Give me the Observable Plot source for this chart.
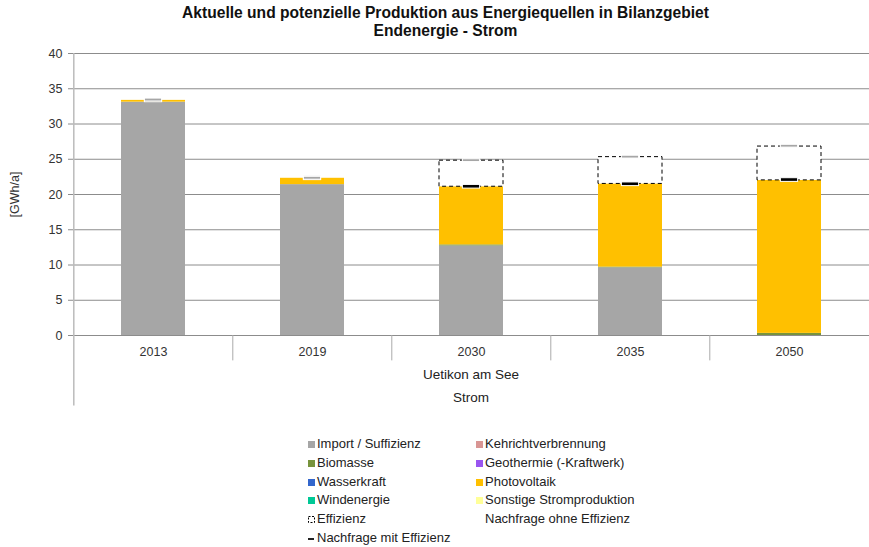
<!DOCTYPE html>
<html>
<head>
<meta charset="utf-8">
<script src="https://cdn.jsdelivr.net/npm/d3@7"></script>
<script src="https://cdn.jsdelivr.net/npm/@observablehq/plot@0.6"></script>
<style>
  html, body { margin: 0; padding: 0; background: #fff; }
  #wrap { position: relative; width: 869px; height: 547px; font-family: "Liberation Sans", Arial, sans-serif; color: #222; overflow: hidden; }
  #title { position: absolute; top: 4px; left: 11px; width: 869px; text-align: center; font-weight: bold; font-size: 15.6px; line-height: 18px; color: #111; }
  #chart { position: absolute; top: 40px; left: 0; }
  #legend { position: absolute; top: 435px; left: 0; width: 869px; font-size: 13px; }
  .item { position: absolute; height: 18px; line-height: 18px; white-space: nowrap; color: #222; }
  .sw { position: absolute; left: 0; top: 6px; width: 7px; height: 7px; }
  .lbl { position: absolute; left: 9px; top: 0; }
</style>
</head>
<body>
<div id="wrap">
  <div id="title">Aktuelle und potenzielle Produktion aus Energiequellen in Bilanzgebiet<br>Endenergie - Strom</div>
  <div id="chart"></div>
  <div id="legend"></div>
</div>
<script>
// ---- Data ----
const years = ["2013", "2019", "2030", "2035", "2050"];
const seriesNames = ["Import / Suffizienz", "Kehrichtverbrennung", "Biomasse", "Geothermie (-Kraftwerk)", "Wasserkraft", "Photovoltaik", "Windenergie", "Sonstige Stromproduktion"];
const seriesColors = ["#A6A6A6", "#D99694", "#77933C", "#9955F0", "#3366CC", "#FFC000", "#00C896", "#FFFF99"];
const importVals     = [33.1, 21.4, 12.7, 9.6, 0];
const kehrichtVals   = [0, 0, 0, 0, 0];
const biomasseVals   = [0, 0, 0.15, 0.1, 0.3];
const geothermieVals = [0, 0, 0, 0, 0];
const wasserVals     = [0, 0, 0, 0, 0];
const pvVals         = [0.25, 0.9, 8.25, 11.8, 21.7];
const windVals       = [0, 0, 0, 0, 0];
const sonstigeVals   = [0, 0, 0, 0, 0];
const effizienzVals  = [0, 0, 3.7, 3.8, 4.8];
const nachfrageOhne  = [33.4, 22.3, 24.8, 25.3, 26.85];
const nachfrageMit   = [33.35, 22.3, 21.1, 21.45, 22.05];
const yTicks = [0, 5, 10, 15, 20, 25, 30, 35, 40];
const groupLabels = ["Uetikon am See", "Strom"];

// ---- Build tables ----
const seriesValues = [importVals, kehrichtVals, biomasseVals, geothermieVals, wasserVals, pvVals, windVals, sonstigeVals];
const stacked = [];
seriesNames.forEach((s, i) => years.forEach((y, j) => stacked.push({year: y, series: s, value: seriesValues[i][j]})));
const totals = years.map((y, j) => seriesValues.reduce((a, arr) => a + arr[j], 0));
const effRows = years.map((y, j) => ({year: y, lo: totals[j], hi: totals[j] + effizienzVals[j]})).filter(d => d.hi > d.lo);
const mitRows = years.map((y, j) => ({year: y, v: nachfrageMit[j]}));
const ohneRows = years.map((y, j) => ({year: y, v: nachfrageOhne[j]}));

const W = 869, mL = 72, mR = 0;
const step = (W - mL - mR) / years.length;
const bandW = step * 0.4;
const dashInset = (bandW - 17) / 2;
const half = 0.2;

const chart = Plot.plot({
  width: W, height: 380,
  marginTop: 13, marginBottom: 85, marginLeft: mL, marginRight: mR,
  x: {domain: years, paddingInner: 0.6, paddingOuter: 0.3, axis: null},
  y: {domain: [0, 40], axis: null},
  color: {domain: seriesNames, range: seriesColors},
  style: {fontFamily: "Liberation Sans, Arial, sans-serif", fontSize: "12px", color: "#333", background: "white", overflow: "visible"},
  marks: [
    Plot.gridY(yTicks, {stroke: "#8c8c8c", strokeOpacity: 1, insetLeft: -4}),
    Plot.axisY(yTicks, {tickSize: 0, tickPadding: 10, fontSize: 12.5, label: "[GWh/a]", labelAnchor: "center", labelArrow: "none", labelOffset: 62}),
    Plot.barY(stacked, Plot.stackY({x: "year", y: "value", fill: "series", z: "series", order: seriesNames})),
    Plot.barY(effRows, {x: "year", y1: "lo", y2: "hi", fill: "white", stroke: "#000", strokeWidth: 1, strokeDasharray: "4,3"}),
    Plot.barY(mitRows, {x: "year", y1: d => d.v - half * 1.3, y2: d => d.v + half * 1.3, fill: "#000", stroke: "#fff", strokeWidth: 1, insetLeft: dashInset, insetRight: dashInset}),
    Plot.barY(ohneRows, {x: "year", y1: d => d.v - half, y2: d => d.v + half, fill: "#A6A6A6", stroke: "#fff", strokeWidth: 1, insetLeft: dashInset, insetRight: dashInset}),
    Plot.ruleY([0], {stroke: "#8c8c8c"}),
    Plot.ruleX(years.slice(1), {x: d => d, y1: () => -3.6, y2: () => 0, dx: -step / 2, stroke: "#aaa"}),
    Plot.ruleX([years[0]], {x: d => d, y1: () => -10, y2: () => 40, dx: -step / 2, stroke: "#bbb", strokeWidth: 1.5}),
    Plot.axisX({tickSize: 0, tickPadding: 12, fontSize: 12.5, label: null}),
    Plot.text([groupLabels[0]], {text: d => d, y: () => -5.55, fontSize: 13.5, fill: "#222"}),
    Plot.text([groupLabels[1]], {text: d => d, y: () => -8.8, fontSize: 13.5, fill: "#222"})
  ]
});
document.getElementById("chart").appendChild(chart);

// ---- Legend ----
const legendItems = [
  {label: seriesNames[0], kind: "box", color: seriesColors[0]},
  {label: seriesNames[1], kind: "box", color: seriesColors[1]},
  {label: seriesNames[2], kind: "box", color: seriesColors[2]},
  {label: seriesNames[3], kind: "box", color: seriesColors[3]},
  {label: seriesNames[4], kind: "box", color: seriesColors[4]},
  {label: seriesNames[5], kind: "box", color: seriesColors[5]},
  {label: seriesNames[6], kind: "box", color: seriesColors[6]},
  {label: seriesNames[7], kind: "box", color: seriesColors[7]},
  {label: "Effizienz", kind: "dashed"},
  {label: "Nachfrage ohne Effizienz", kind: "none"},
  {label: "Nachfrage mit Effizienz", kind: "line"}
];
const legend = document.getElementById("legend");
legendItems.forEach((it, i) => {
  const col = i % 2, row = Math.floor(i / 2);
  const el = document.createElement("div");
  el.className = "item";
  el.style.left = (col === 0 ? 308 : 476) + "px";
  el.style.top = (row * 18.8) + "px";
  let sw = "";
  if (it.kind === "box") sw = `<span class="sw" style="background:${it.color}"></span>`;
  else if (it.kind === "dashed") sw = `<svg class="sw" width="7" height="7" style="overflow:visible"><rect x="0.5" y="0.5" width="6" height="6" fill="white" stroke="#000" stroke-width="1" stroke-dasharray="2,1.5"/></svg>`;
  else if (it.kind === "line") sw = `<span class="sw" style="top:9px;height:1.5px;width:6px;background:#222"></span>`;
  el.innerHTML = sw + `<span class="lbl">${it.label}</span>`;
  legend.appendChild(el);
});
</script>
</body>
</html>
